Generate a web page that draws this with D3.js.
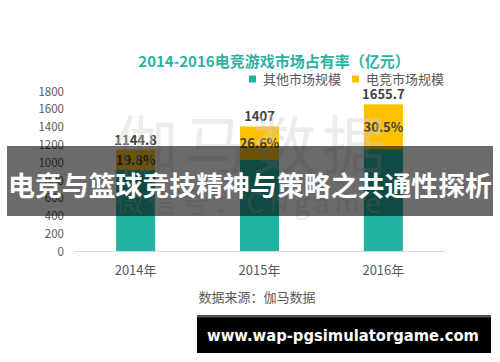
<!DOCTYPE html>
<html>
<head>
<meta charset="utf-8">
<script src="https://cdn.jsdelivr.net/npm/d3@7"></script>
<style>
  body { margin: 0; background: #fff; }
  svg { display: block; font-family: "Noto Sans CJK SC", "Noto Sans", sans-serif; }
</style>
</head>
<body>
<svg id="chart"></svg>
<script>
// データ
const years = ["2014年", "2015年", "2016年"];
const totals = [1144.8, 1407, 1655.7];          // 市場規模合計（億元）
const esportsShare = [19.8, 26.6, 30.5];        // 電競の占有率 %
const yTicks = [0, 200, 400, 600, 800, 1000, 1200, 1400, 1600, 1800];
const seriesNames = ["其他市场规模", "电竞市场规模"];
const seriesColors = ["#21b3a0", "#ffc000"];

class ShareBarChart {

    constructor(config) {
        this.config = config;
        this.init();
    }

    init() {
        let self = this;
        self.svg = d3.select(self.config.parent)
            .attr("width", self.config.width)
            .attr("height", self.config.height);

        // 電競 / その他 に分ける
        self.dataset = years.map((y, i) => {
            let es = totals[i] * esportsShare[i] / 100;
            return { year: y, total: totals[i], share: esportsShare[i], other: totals[i] - es, esports: es };
        });

        self.xScale = d3.scaleBand()
            .domain(years)
            .range([74, 445])
            .paddingInner(0.685)
            .paddingOuter(0.34);
        self.yScale = d3.scaleLinear()
            .domain([0, 1800])
            .range([251.5, 91.5]);
    }

    render() {
        let self = this;
        let x = self.xScale, y = self.yScale;

        // title
        self.svg.append("text")
            .attr("x", 274).attr("y", 67)
            .attr("text-anchor", "middle")
            .attr("font-size", "15px")
            .attr("font-weight", "bold")
            .attr("fill", "#2bb3a0")
            .text("2014-2016电竞游戏市场占有率（亿元）");

        // legend
        let legend = self.svg.append("g").selectAll("g")
            .data(seriesNames).enter().append("g")
            .attr("transform", (d, i) => `translate(${249 + i * 103}, 79)`);
        legend.append("rect")
            .attr("x", 0).attr("y", -3.5)
            .attr("width", 7).attr("height", 7)
            .attr("fill", (d, i) => seriesColors[i]);
        legend.append("text")
            .attr("x", 14).attr("y", 4.5)
            .attr("font-size", "13px")
            .attr("fill", "#595959")
            .text(d => d);

        // Y axis
        let axisY = self.svg.append("g")
            .attr("transform", "translate(64,0)")
            .call(d3.axisLeft(y).tickValues(yTicks).tickFormat(d3.format("d")).tickSize(0).tickPadding(0));
        axisY.select(".domain").remove();
        axisY.selectAll("text")
            .attr("font-size", "11.5px")
            .attr("fill", "#595959")
            .attr("font-family", "Noto Sans CJK SC, sans-serif");

        // bars
        let bars = self.svg.append("g").selectAll("g")
            .data(self.dataset).enter().append("g");
        bars.append("rect")
            .attr("x", d => x(d.year))
            .attr("width", x.bandwidth())
            .attr("y", d => y(d.other))
            .attr("height", d => y(0) - y(d.other))
            .attr("fill", seriesColors[0]);
        bars.append("rect")
            .attr("x", d => x(d.year))
            .attr("width", x.bandwidth())
            .attr("y", d => y(d.total))
            .attr("height", d => y(d.other) - y(d.total))
            .attr("fill", seriesColors[1]);

        // baseline
        self.svg.append("line")
            .attr("x1", 74).attr("x2", 445)
            .attr("y1", y(0)).attr("y2", y(0))
            .attr("stroke", "#d9d9d9").attr("stroke-width", 1);

        // X axis
        let axisX = self.svg.append("g")
            .attr("transform", `translate(0,${y(0)})`)
            .call(d3.axisBottom(x).tickSize(0).tickPadding(14));
        axisX.select(".domain").remove();
        axisX.selectAll("text")
            .attr("font-size", "13px")
            .attr("fill", "#595959")
            .attr("font-family", "Noto Sans CJK SC, sans-serif");

        // labels
        bars.append("text")
            .attr("x", d => x(d.year) + x.bandwidth() / 2)
            .attr("y", d => y(d.total) - 5)
            .attr("text-anchor", "middle")
            .attr("font-size", "13px")
            .attr("font-weight", "bold")
            .attr("fill", "#404040")
            .text(d => d.total);
        bars.append("text")
            .attr("x", d => x(d.year) + x.bandwidth() / 2)
            .attr("y", d => (y(d.total) + y(d.other)) / 2 + 5)
            .attr("text-anchor", "middle")
            .attr("font-size", "13px")
            .attr("font-weight", "bold")
            .attr("fill", "#404040")
            .text(d => d.share + "%");

        // source
        self.svg.append("text")
            .attr("x", 257).attr("y", 302)
            .attr("text-anchor", "middle")
            .attr("font-size", "13px")
            .attr("fill", "#595959")
            .text("数据来源：伽马数据");

        // watermark
        let wm = self.svg.append("g").attr("fill", "#d0d0d0").attr("opacity", 0.4);
        wm.append("text")
            .attr("x", 250).attr("y", 169)
            .attr("text-anchor", "middle")
            .attr("font-size", "64px")
            .attr("textLength", 272)
            .text("伽马数据");
        wm.append("text")
            .attr("x", 248).attr("y", 213)
            .attr("text-anchor", "middle")
            .attr("font-size", "28px")
            .attr("textLength", 265)
            .text("微信号：CNgame");

        // banner overlay
        self.svg.append("rect")
            .attr("x", 7).attr("y", 146)
            .attr("width", 486).attr("height", 70)
            .attr("fill", "#000").attr("opacity", 0.58);
        self.svg.append("text")
            .attr("x", 250).attr("y", 196)
            .attr("text-anchor", "middle")
            .attr("font-size", "27px")
            .attr("font-weight", "bold")
            .attr("fill", "#fff")
            .attr("textLength", 484)
            .attr("lengthAdjust", "spacingAndGlyphs")
            .text("电竞与篮球竞技精神与策略之共通性探析");

        // url box
        self.svg.append("rect")
            .attr("x", 197).attr("y", 315)
            .attr("width", 294).attr("height", 38)
            .attr("fill", "#000");
        self.svg.append("rect")
            .attr("x", 197).attr("y", 315)
            .attr("width", 294).attr("height", 2.5)
            .attr("fill", "#555");
        self.svg.append("text")
            .attr("x", 343).attr("y", 341)
            .attr("text-anchor", "middle")
            .attr("font-family", "DejaVu Sans, sans-serif")
            .attr("font-size", "15px")
            .attr("font-weight", "bold")
            .attr("fill", "#fff")
            .attr("textLength", 272)
            .attr("lengthAdjust", "spacingAndGlyphs")
            .text("www.wap-pgsimulatorgame.com");
    }
}

let chart = new ShareBarChart({ parent: "#chart", width: 500, height: 362 });
chart.render();
</script>
</body>
</html>
